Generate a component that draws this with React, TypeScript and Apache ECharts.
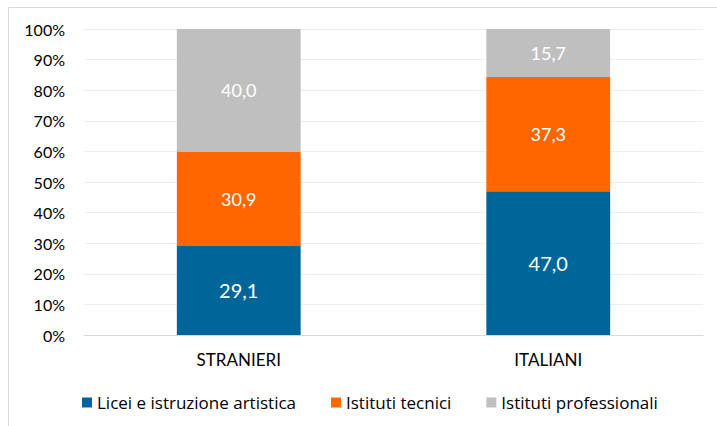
import React, { useEffect, useRef } from "react";
import * as echarts from "echarts";

const categories = ["STRANIERI", "ITALIANI"];
const seriesNames = ["Licei e istruzione artistica", "Istituti tecnici", "Istituti professionali"];
const licei = [29.1, 47.0];
const tecnici = [30.9, 37.3];
const professionali = [40.0, 15.7];
const colors = ["#006699", "#FF6600", "#BFBFBF"];
const yTicks = [0, 10, 20, 30, 40, 50, 60, 70, 80, 90, 100];

const FONT = "Lato";

export default function App() {
  const ref = useRef<HTMLDivElement>(null);
  useEffect(() => {
    if (!ref.current) return;
    const chart = echarts.init(ref.current, null, { renderer: "svg" });
    const fmt = (p: any) => Number(p.value).toFixed(1).replace(".", ",");
    const data = [licei, tecnici, professionali];
    const labelSizes = [20, 18, 18];
    chart.setOption({
      animation: false,
      textStyle: { fontFamily: FONT },
      graphic: [
        {
          type: "rect",
          shape: { x: 8.5, y: 7.5, width: 720, height: 430 },
          style: { fill: "none", stroke: "#D9D9D9", lineWidth: 1 },
          silent: true,
        },
      ],
      grid: { left: 84, right: 14, top: 29, bottom: 91 },
      legend: {
        top: 389,
        left: 77,
        padding: [5, 5],
        icon: "rect",
        itemWidth: 10,
        itemHeight: 10,
        itemGap: 35,
        textStyle: { fontFamily: "Open Sans", fontSize: 17, color: "#000" },
        data: seriesNames,
      },
      xAxis: {
        type: "category",
        data: categories,
        axisLine: { lineStyle: { color: "#D9D9D9" } },
        axisTick: { show: false },
        axisLabel: { fontFamily: FONT, fontSize: 17, color: "#000", margin: 16 },
      },
      yAxis: {
        type: "value",
        min: 0,
        max: 100,
        interval: 10,
        axisLine: { show: false },
        axisTick: { show: false },
        splitLine: { lineStyle: { color: "#EDEDED" } },
        axisLabel: {
          fontFamily: FONT,
          fontSize: 16,
          color: "#000",
          margin: 19,
          formatter: (v: number) => (yTicks.includes(v) ? v + "%" : ""),
        },
      },
      series: data.map((d, i) => ({
        name: seriesNames[i],
        type: "bar",
        stack: "total",
        barWidth: "40%",
        data: d,
        itemStyle: { color: colors[i] },
        label: {
          show: true,
          position: "inside",
          color: "#fff",
          fontFamily: FONT,
          fontSize: labelSizes[i],
          formatter: fmt,
        },
      })),
    });
    return () => chart.dispose();
  }, []);
  return <div ref={ref} style={{ width: 717, height: 426, position: "absolute", left: 0, top: 0 }} />;
}
